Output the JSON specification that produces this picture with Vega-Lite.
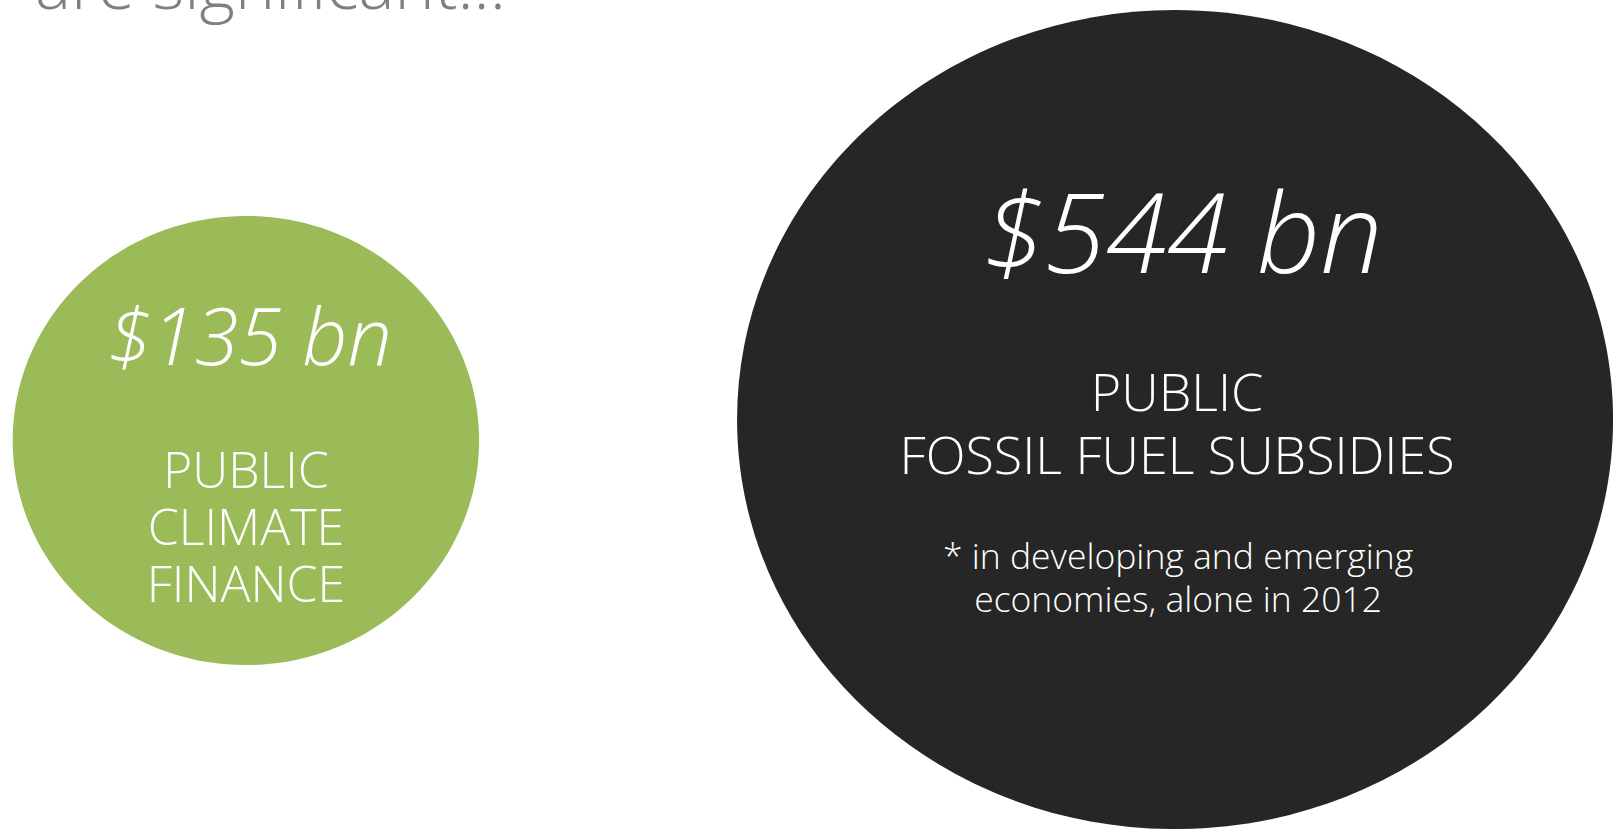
{
  "$schema": "https://vega.github.io/schema/vega-lite/v6.json",
  "width": 1613,
  "height": 829,
  "autosize": "none",
  "padding": 0,
  "background": "#ffffff",
  "config": {"view": {"stroke": null}},
  "title": {
    "text": "are significant...",
    "anchor": "start",
    "frame": "group",
    "orient": "top",
    "baseline": "alphabetic",
    "offset": -27,
    "dy": 50,
    "dx": 35,
    "font": "Open Sans",
    "fontSize": 68,
    "fontWeight": 300,
    "color": "#7f7f7f"
  },
  "data": {
    "values": [
      {"label": "climate", "amount": 135, "value_text": "$135 bn", "category": "PUBLIC\nCLIMATE\nFINANCE", "note": ""},
      {"label": "fossil", "amount": 544, "value_text": "$544 bn", "category": "PUBLIC\nFOSSIL FUEL SUBSIDIES", "note": "* in developing and emerging\neconomies, alone in 2012"}
    ]
  },
  "encoding": {
    "x": {"field": "label", "type": "nominal", "axis": null,
          "scale": {"type": "point", "domain": ["climate", "fossil"], "padding": 0.368, "align": 0.3596}},
    "y": {"field": "amount", "type": "quantitative", "axis": null,
          "scale": {"type": "linear", "domain": [-7431.5, 8714.1], "zero": false, "nice": false}}
  },
  "layer": [
    {
      "mark": {"type": "point", "filled": true, "opacity": 1, "strokeWidth": 0},
      "encoding": {
        "size": {"field": "amount", "type": "quantitative", "legend": null,
                 "scale": {"type": "linear", "domain": [135, 544], "range": [217529, 767376], "zero": false}},
        "shape": {"field": "label", "type": "nominal", "legend": null,
                  "scale": {"domain": ["climate", "fossil"],
                            "range": ["M -1 0 A 1 0.963 0 1 0 1 0 A 1 0.963 0 1 0 -1 0 Z",
                                      "M -1 0 A 1 0.935 0 1 0 1 0 A 1 0.935 0 1 0 -1 0 Z"]}},
        "color": {"field": "label", "type": "nominal", "legend": null,
                  "scale": {"domain": ["climate", "fossil"], "range": ["#9bbb59", "#262626"]}}
      }
    },
    {
      "transform": [{"filter": "datum.label === 'climate'"}],
      "mark": {"type": "text", "font": "Open Sans", "fontStyle": "italic", "fontWeight": 300, "fontSize": 79,
               "color": "#ffffff", "align": "center", "baseline": "alphabetic", "dy": -75, "dx": 4},
      "encoding": {"text": {"field": "value_text"}}
    },
    {
      "transform": [{"filter": "datum.label === 'fossil'"}],
      "mark": {"type": "text", "font": "Open Sans", "fontStyle": "italic", "fontWeight": 300, "fontSize": 111,
               "color": "#ffffff", "align": "center", "baseline": "alphabetic", "dy": -146, "dx": 8},
      "encoding": {"text": {"field": "value_text"}}
    },
    {
      "transform": [{"filter": "datum.label === 'climate'"}],
      "mark": {"type": "text", "font": "Open Sans", "fontWeight": 300, "fontSize": 50, "lineHeight": 57,
               "lineBreak": "\n", "color": "#ffffff", "align": "center", "baseline": "alphabetic", "dy": 47.5, "dx": 0},
      "encoding": {"text": {"field": "category"}}
    },
    {
      "transform": [{"filter": "datum.label === 'fossil'"}],
      "mark": {"type": "text", "font": "Open Sans", "fontWeight": 300, "fontSize": 52, "lineHeight": 63,
               "lineBreak": "\n", "color": "#ffffff", "align": "center", "baseline": "alphabetic", "dy": -8, "dx": 2},
      "encoding": {"text": {"field": "category"}}
    },
    {
      "transform": [{"filter": "datum.label === 'fossil'"}],
      "mark": {"type": "text", "font": "Open Sans", "fontWeight": 300, "fontSize": 35.5, "lineHeight": 43,
               "lineBreak": "\n", "color": "#ffffff", "align": "center", "baseline": "alphabetic", "dy": 150, "dx": 3},
      "encoding": {"text": {"field": "note"}}
    }
  ]
}
